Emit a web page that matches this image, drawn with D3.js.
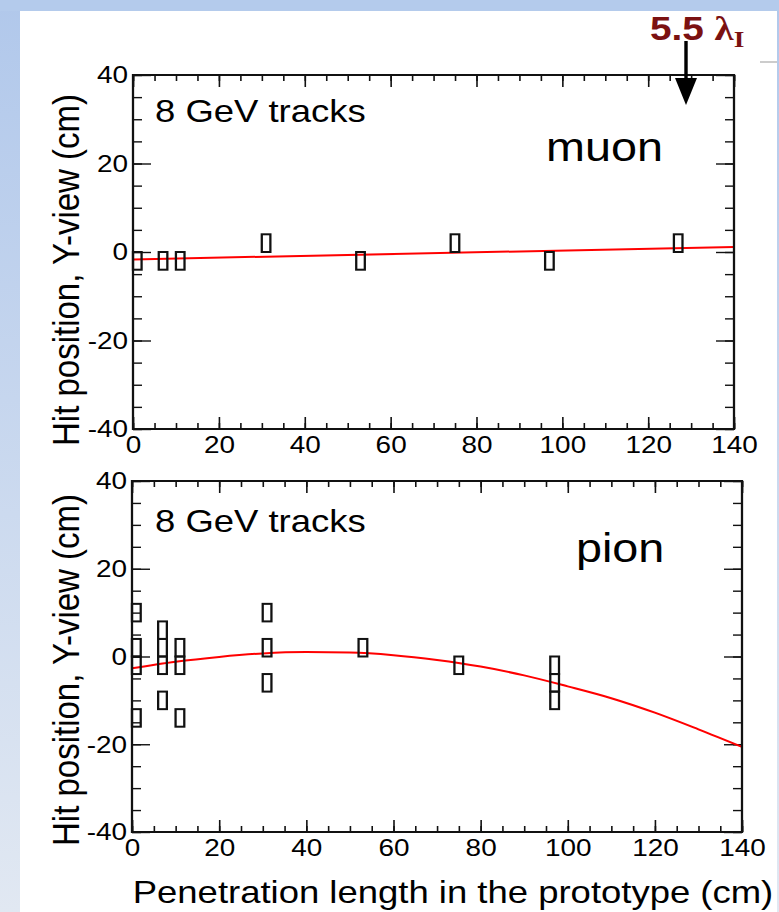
<!DOCTYPE html>
<html>
<head>
<meta charset="utf-8">
<script src="https://cdn.jsdelivr.net/npm/d3@7"></script>
<style>
    body { margin: 0; overflow: hidden; background: #fff; }
    svg { display: block; }
    text { font-family: "Liberation Sans", Arial, sans-serif; }
</style>
</head>
<body>
<div id="chart"></div>
<script>
// axis ticks (cm)
const xTickValues = [0, 20, 40, 60, 80, 100, 120, 140];
const yTickValues = [-40, -20, 0, 20, 40];

// muon event: hit strips (x = depth, y = strip centre)
const muonHitX = [1, 7, 11, 31, 53, 75, 97, 127];
const muonHitY = [-2, -2, -2, 2, -2, 2, -2, 2];
// straight line fit
const muonFitX = [0, 140];
const muonFitY = [-1.67, 1.13];

// pion event
const pionHitX = [1, 1, 1, 1, 7, 7, 7, 7, 11, 11, 11, 31, 31, 31, 53, 75, 97, 97, 97];
const pionHitY = [10, 2, -2, -14, 6, 2, -2, -10, 2, -2, -14, 10, 2, -6, 2, -2, -2, -6, -10];
// parabola fit
const pionFitX = [0, 10, 20, 30, 40, 50, 60, 70, 80, 90, 100, 110, 120, 130, 140];
const pionFitY = [-2.7, -1.2, -0.1, 0.7, 1.0, 0.9, 0.3, -0.8, -2.3, -4.3, -6.8, -9.5, -12.8, -16.6, -20.6];

// the slide picture is stretched sideways, so draw in a squeezed viewBox
const K = 1.14;
const W = 779, H = 912;
const px = (x) => x / K;

const svg = d3.select("#chart")
    .append("svg")
    .attr("width", W)
    .attr("height", H)
    .attr("viewBox", `0 0 ${W / K} ${H}`)
    .attr("preserveAspectRatio", "none");

// slide background
const defs = svg.append("defs");
const grad = defs.append("linearGradient")
    .attr("id", "slideBg")
    .attr("x1", 0).attr("y1", 0).attr("x2", 0).attr("y2", 1);
grad.append("stop").attr("offset", "0%").attr("stop-color", "#b1c8eb");
grad.append("stop").attr("offset", "100%").attr("stop-color", "#e1e8f2");

svg.append("rect")
    .attr("width", W / K).attr("height", H)
    .attr("fill", "url(#slideBg)");
svg.append("rect")
    .attr("x", 0).attr("y", 0)
    .attr("width", W / K).attr("height", 11)
    .attr("fill", "#b4cbec");
svg.append("rect")
    .attr("x", px(20)).attr("y", 11)
    .attr("width", px(757)).attr("height", H - 11)
    .attr("fill", "#fff");
svg.append("line")
    .attr("x1", px(760)).attr("x2", px(777))
    .attr("y1", 62).attr("y2", 62)
    .attr("stroke", "#999").attr("stroke-width", 1);

/** One event display panel with its hits and fit */
class HitPanel {
    /**
     * @param {Object} opts
     * @param {number[]} opts.box - [left, top, right, bottom] in page pixels
     */
    constructor(opts) {
        this.opts = opts;
        const [l, t, r, b] = opts.box;
        this.left = px(l);
        this.right = px(r);
        this.top = t;
        this.bottom = b;
        this.hits = opts.hitX.map((x, i) => ({ x: x, y: opts.hitY[i] }));
        this.fit = opts.fitX.map((x, i) => ({ x: x, y: opts.fitY[i] }));
    }

    draw = () => {
        this.setScale();
        this.g = svg.append("g");
        this.addAxes();
        this.addFit();
        this.makeBoxes();
        this.addFrame();
        this.addText();
    };

    setScale = () => {
        this.xScale = d3.scaleLinear().domain([0, 140]).range([this.left, this.right]);
        this.yScale = d3.scaleLinear().domain([-40, 40]).range([this.bottom, this.top]);
    };

    addAxes = () => {
        const g = this.g;
        const fmt = (d) => String(d);
        const minorX = d3.range(0, 141, 5);
        const minorY = d3.range(-40, 41, 5);

        const put = (axis, tf) => {
            const a = g.append("g").attr("transform", tf).call(axis);
            a.select(".domain").remove();
            a.selectAll("line").attr("stroke", "#111").attr("stroke-width", 1.4);
            return a;
        };

        // minor ticks on all four sides
        put(d3.axisBottom(this.xScale).tickValues(minorX).tickSize(-6).tickSizeOuter(0).tickFormat(""),
            `translate(0,${this.bottom})`);
        put(d3.axisTop(this.xScale).tickValues(minorX).tickSize(-6).tickSizeOuter(0).tickFormat(""),
            `translate(0,${this.top})`);
        put(d3.axisLeft(this.yScale).tickValues(minorY).tickSize(-px(9)).tickSizeOuter(0).tickFormat(""),
            `translate(${this.left},0)`);
        put(d3.axisRight(this.yScale).tickValues(minorY).tickSize(-px(9)).tickSizeOuter(0).tickFormat(""),
            `translate(${this.right},0)`);

        // major ticks, labels on bottom and left
        const xb = put(d3.axisBottom(this.xScale).tickValues(xTickValues).tickSize(-12)
            .tickSizeOuter(0).tickPadding(7).tickFormat(fmt), `translate(0,${this.bottom})`);
        put(d3.axisTop(this.xScale).tickValues(xTickValues).tickSize(-12).tickSizeOuter(0).tickFormat(""),
            `translate(0,${this.top})`);
        const yl = put(d3.axisLeft(this.yScale).tickValues(yTickValues).tickSize(-px(18))
            .tickSizeOuter(0).tickPadding(px(5)).tickFormat(fmt), `translate(${this.left},0)`);
        put(d3.axisRight(this.yScale).tickValues(yTickValues).tickSize(-px(18)).tickSizeOuter(0).tickFormat(""),
            `translate(${this.right},0)`);

        [xb, yl].forEach((a) => a.selectAll("text")
            .attr("fill", "#000")
            .style("font-size", "24.5px")
            .style("font-family", "Liberation Sans, Arial, sans-serif"));
    };

    addFit = () => {
        const line = d3.line()
            .x((d) => this.xScale(d.x))
            .y((d) => this.yScale(d.y))
            .curve(d3.curveMonotoneX);
        this.g.append("path")
            .datum(this.fit)
            .attr("d", line)
            .attr("fill", "none")
            .attr("stroke", "#ff0000")
            .attr("stroke-width", 2);
    };

    makeBoxes = () => {
        // each hit is one strip: 2 cm deep, 4 cm wide
        this.g.selectAll("rect.hit")
            .data(this.hits)
            .enter()
            .append("rect")
            .attr("class", "hit")
            .attr("x", (d) => this.xScale(d.x - 1))
            .attr("y", (d) => this.yScale(d.y + 2))
            .attr("width", (d) => this.xScale(d.x + 1) - this.xScale(d.x - 1))
            .attr("height", (d) => this.yScale(d.y - 2) - this.yScale(d.y + 2))
            .attr("fill", "none")
            .attr("stroke", "#111")
            .attr("stroke-width", 2);
    };

    addFrame = () => {
        this.g.append("rect")
            .attr("x", this.left)
            .attr("y", this.top)
            .attr("width", this.right - this.left)
            .attr("height", this.bottom - this.top)
            .attr("fill", "none")
            .attr("stroke", "#111")
            .attr("stroke-width", 2);
    };

    addText = () => {
        const o = this.opts;
        this.g.append("text")
            .attr("x", px(155)).attr("y", o.labelY)
            .style("font-size", "32px")
            .text("8 GeV tracks");
        this.g.append("text")
            .attr("x", px(o.nameX)).attr("y", o.nameY)
            .style("font-size", "41px")
            .text(o.name);
        this.g.append("text")
            .attr("transform", `translate(${px(66)},${o.titleY}) rotate(-90)`)
            .attr("text-anchor", "middle")
            .attr("dy", "0.35em")
            .style("font-size", "33px")
            .text("Hit position, Y-view (cm)");
    };
}

new HitPanel({
    box: [133, 75, 734, 429],
    hitX: muonHitX, hitY: muonHitY,
    fitX: muonFitX, fitY: muonFitY,
    name: "muon", nameX: 546, nameY: 161,
    labelY: 122, titleY: 270
}).draw();

new HitPanel({
    box: [132, 481, 742, 832],
    hitX: pionHitX, hitY: pionHitY,
    fitX: pionFitX, fitY: pionFitY,
    name: "pion", nameX: 576, nameY: 562,
    labelY: 532, titleY: 670
}).draw();

// x axis title
svg.append("text")
    .attr("x", px(453)).attr("y", 903)
    .attr("text-anchor", "middle")
    .style("font-size", "32px")
    .text("Penetration length in the prototype (cm)");

// 5.5 interaction lengths marker
const mark = svg.append("text")
    .attr("x", px(650)).attr("y", 40)
    .attr("fill", "#7b1111")
    .style("font-weight", "bold")
    .style("font-size", "34px");
mark.append("tspan").text("5.5 ");
mark.append("tspan")
    .style("font-family", "Liberation Serif, serif")
    .text("λ");
mark.append("tspan")
    .attr("dy", 7)
    .style("font-family", "Liberation Serif, serif")
    .style("font-size", "24px")
    .text("I");

svg.append("line")
    .attr("x1", px(686)).attr("x2", px(686))
    .attr("y1", 41).attr("y2", 80)
    .attr("stroke", "#000").attr("stroke-width", 3);
svg.append("path")
    .attr("d", `M${px(675)},78 L${px(697)},78 L${px(686)},105 Z`)
    .attr("fill", "#000");
</script>
</body>
</html>
